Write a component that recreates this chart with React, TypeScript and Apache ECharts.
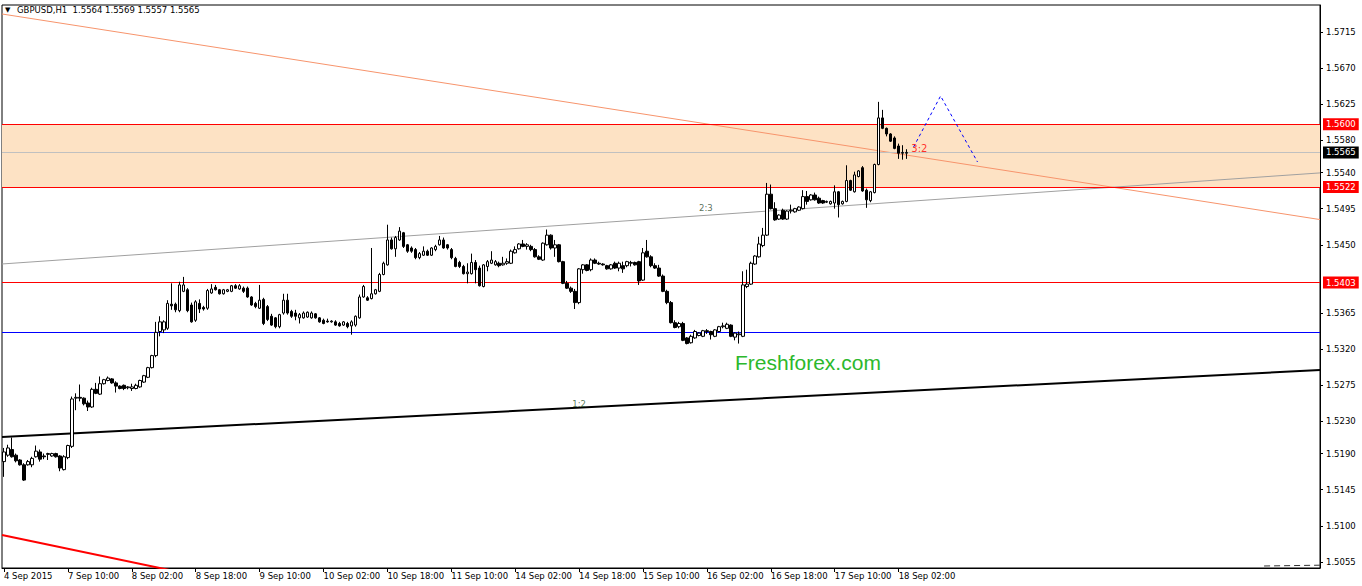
import React, { useEffect, useRef } from 'react';
import * as echarts from 'echarts';

const SLOTS = 330;
const FONT = 'DejaVu Sans';

const tickLabels = [
  '4 Sep 2015', '7 Sep 10:00', '8 Sep 02:00', '8 Sep 18:00', '9 Sep 10:00',
  '10 Sep 02:00', '10 Sep 18:00', '11 Sep 10:00', '14 Sep 02:00', '14 Sep 18:00',
  '15 Sep 10:00', '16 Sep 02:00', '16 Sep 18:00', '17 Sep 10:00', '18 Sep 02:00',
];

const priceTicks = [
  1.5715, 1.567, 1.5625, 1.558, 1.554, 1.5495, 1.545, 1.5365, 1.532, 1.5275,
  1.523, 1.519, 1.5145, 1.51, 1.5055,
];

// hourly candles: [open, high, low, close]
const candles = [
  [1.5180,1.5197,1.5161,1.5192],[1.5188,1.5201,1.5186,1.5197],[1.5195,1.5210,1.5185,1.5186],[1.5188,1.5190,1.5179,1.5181],
  [1.5182,1.5183,1.5175,1.5176],[1.5176,1.5178,1.5156,1.5157],[1.5176,1.5182,1.5175,1.5180],[1.5176,1.5186,1.5173,1.5184],
  [1.5186,1.5200,1.5185,1.5193],[1.5192,1.5195,1.5180,1.5183],[1.5187,1.5190,1.5183,1.5186],[1.5189,1.5191,1.5182,1.5190],
  [1.5187,1.5191,1.5186,1.5190],[1.5190,1.5191,1.5185,1.5186],[1.5187,1.5188,1.5168,1.5172],[1.5170,1.5188,1.5169,1.5186],
  [1.5185,1.5201,1.5183,1.5200],[1.5199,1.5261,1.5197,1.5258],[1.5259,1.5265,1.5244,1.5260],[1.5260,1.5276,1.5255,1.5259],
  [1.5259,1.5260,1.5250,1.5252],[1.5253,1.5256,1.5243,1.5248],[1.5248,1.5272,1.5247,1.5270],[1.5270,1.5278,1.5264,1.5265],
  [1.5264,1.5286,1.5263,1.5277],[1.5277,1.5283,1.5276,1.5282],[1.5281,1.5286,1.5280,1.5284],[1.5283,1.5284,1.5277,1.5278],
  [1.5278,1.5280,1.5266,1.5274],[1.5274,1.5275,1.5270,1.5271],[1.5275,1.5276,1.5269,1.5271],[1.5272,1.5274,1.5270,1.5273],
  [1.5271,1.5277,1.5268,1.5273],[1.5271,1.5277,1.5270,1.5275],[1.5273,1.5282,1.5272,1.5281],[1.5279,1.5288,1.5278,1.5287],
  [1.5285,1.5298,1.5284,1.5297],[1.5297,1.5313,1.5296,1.5312],[1.5312,1.5354,1.5310,1.5341],[1.5342,1.5361,1.5336,1.5354],
  [1.5344,1.5356,1.5340,1.5354],[1.5346,1.5381,1.5344,1.5377],[1.5376,1.5402,1.5369,1.5374],[1.5376,1.5378,1.5366,1.5369],
  [1.5368,1.5404,1.5366,1.5400],[1.5392,1.5410,1.5391,1.5400],[1.5394,1.5396,1.5366,1.5368],[1.5375,1.5378,1.5353,1.5354],
  [1.5356,1.5381,1.5354,1.5379],[1.5377,1.5382,1.5365,1.5370],[1.5372,1.5374,1.5368,1.5370],[1.5371,1.5395,1.5369,1.5393],
  [1.5390,1.5401,1.5389,1.5395],[1.5397,1.5400,1.5393,1.5394],[1.5394,1.5395,1.5388,1.5389],[1.5389,1.5395,1.5388,1.5394],
  [1.5392,1.5395,1.5391,1.5394],[1.5392,1.5400,1.5391,1.5399],[1.5399,1.5401,1.5395,1.5396],[1.5395,1.5401,1.5394,1.5399],
  [1.5396,1.5398,1.5390,1.5392],[1.5396,1.5398,1.5384,1.5385],[1.5385,1.5386,1.5374,1.5375],[1.5377,1.5379,1.5371,1.5373],
  [1.5371,1.5400,1.5370,1.5381],[1.5382,1.5384,1.5350,1.5352],[1.5373,1.5375,1.5355,1.5357],[1.5361,1.5364,1.5349,1.5350],
  [1.5359,1.5360,1.5346,1.5348],[1.5348,1.5364,1.5346,1.5363],[1.5365,1.5389,1.5363,1.5381],[1.5381,1.5389,1.5363,1.5365],
  [1.5367,1.5369,1.5359,1.5361],[1.5365,1.5369,1.5356,1.5361],[1.5359,1.5365,1.5352,1.5363],[1.5359,1.5367,1.5358,1.5365],
  [1.5360,1.5367,1.5359,1.5366],[1.5359,1.5367,1.5358,1.5365],[1.5364,1.5365,1.5358,1.5359],[1.5359,1.5360,1.5353,1.5354],
  [1.5356,1.5358,1.5351,1.5352],[1.5355,1.5358,1.5353,1.5354],[1.5354,1.5356,1.5353,1.5355],[1.5354,1.5356,1.5349,1.5350],
  [1.5352,1.5354,1.5348,1.5349],[1.5350,1.5355,1.5349,1.5354],[1.5352,1.5354,1.5346,1.5348],[1.5349,1.5356,1.5338,1.5354],
  [1.5350,1.5362,1.5348,1.5361],[1.5359,1.5388,1.5358,1.5385],[1.5385,1.5400,1.5384,1.5398],[1.5384,1.5386,1.5380,1.5381],
  [1.5383,1.5446,1.5382,1.5389],[1.5389,1.5395,1.5388,1.5394],[1.5392,1.5415,1.5391,1.5413],[1.5413,1.5429,1.5412,1.5427],
  [1.5425,1.5475,1.5424,1.5456],[1.5456,1.5459,1.5444,1.5445],[1.5445,1.5461,1.5435,1.5459],[1.5456,1.5472,1.5455,1.5467],
  [1.5465,1.5466,1.5446,1.5448],[1.5450,1.5451,1.5440,1.5442],[1.5446,1.5448,1.5440,1.5442],[1.5444,1.5446,1.5432,1.5434],
  [1.5434,1.5441,1.5432,1.5439],[1.5437,1.5448,1.5436,1.5442],[1.5442,1.5444,1.5436,1.5437],[1.5437,1.5447,1.5436,1.5446],
  [1.5444,1.5450,1.5442,1.5448],[1.5450,1.5461,1.5449,1.5456],[1.5456,1.5459,1.5445,1.5446],[1.5450,1.5451,1.5444,1.5446],
  [1.5444,1.5446,1.5432,1.5434],[1.5433,1.5435,1.5422,1.5423],[1.5428,1.5430,1.5421,1.5423],[1.5423,1.5425,1.5413,1.5414],
  [1.5414,1.5427,1.5402,1.5416],[1.5414,1.5439,1.5413,1.5428],[1.5428,1.5431,1.5402,1.5419],[1.5421,1.5424,1.5398,1.5399],
  [1.5398,1.5426,1.5397,1.5425],[1.5423,1.5431,1.5417,1.5429],[1.5427,1.5442,1.5426,1.5431],[1.5425,1.5431,1.5424,1.5429],
  [1.5427,1.5429,1.5422,1.5424],[1.5425,1.5435,1.5424,1.5427],[1.5427,1.5433,1.5425,1.5429],[1.5427,1.5444,1.5426,1.5442],
  [1.5440,1.5448,1.5439,1.5444],[1.5445,1.5452,1.5444,1.5451],[1.5451,1.5456,1.5447,1.5448],[1.5448,1.5452,1.5444,1.5450],
  [1.5448,1.5450,1.5442,1.5444],[1.5444,1.5446,1.5434,1.5435],[1.5435,1.5437,1.5431,1.5432],[1.5431,1.5453,1.5430,1.5452],
  [1.5450,1.5469,1.5449,1.5462],[1.5462,1.5463,1.5444,1.5446],[1.5446,1.5456,1.5435,1.5450],[1.5450,1.5451,1.5428,1.5429],
  [1.5429,1.5430,1.5401,1.5402],[1.5402,1.5405,1.5395,1.5396],[1.5396,1.5398,1.5390,1.5392],[1.5392,1.5395,1.5370,1.5378],
  [1.5378,1.5421,1.5376,1.5420],[1.5419,1.5426,1.5414,1.5425],[1.5425,1.5426,1.5417,1.5418],[1.5419,1.5433,1.5417,1.5431],
  [1.5431,1.5433,1.5426,1.5427],[1.5427,1.5429,1.5425,1.5426],[1.5426,1.5427,1.5424,1.5425],[1.5424,1.5425,1.5419,1.5420],
  [1.5420,1.5426,1.5419,1.5425],[1.5427,1.5429,1.5420,1.5421],[1.5421,1.5429,1.5417,1.5427],[1.5424,1.5429,1.5415,1.5420],
  [1.5424,1.5430,1.5422,1.5429],[1.5427,1.5430,1.5423,1.5428],[1.5428,1.5429,1.5424,1.5425],[1.5429,1.5430,1.5400,1.5405],
  [1.5406,1.5446,1.5405,1.5440],[1.5442,1.5456,1.5434,1.5435],[1.5435,1.5437,1.5422,1.5424],[1.5424,1.5427,1.5420,1.5421],
  [1.5421,1.5425,1.5410,1.5411],[1.5411,1.5413,1.5391,1.5392],[1.5392,1.5394,1.5376,1.5378],[1.5378,1.5380,1.5352,1.5353],
  [1.5353,1.5356,1.5346,1.5347],[1.5348,1.5354,1.5346,1.5352],[1.5352,1.5354,1.5330,1.5331],[1.5334,1.5335,1.5326,1.5327],
  [1.5328,1.5338,1.5327,1.5336],[1.5334,1.5344,1.5333,1.5342],[1.5337,1.5341,1.5336,1.5340],[1.5336,1.5344,1.5335,1.5343],
  [1.5343,1.5345,1.5339,1.5342],[1.5342,1.5343,1.5332,1.5338],[1.5336,1.5345,1.5335,1.5344],[1.5342,1.5349,1.5341,1.5348],
  [1.5348,1.5353,1.5346,1.5349],[1.5346,1.5353,1.5345,1.5351],[1.5350,1.5351,1.5335,1.5336],[1.5335,1.5341,1.5331,1.5340],
  [1.5338,1.5342,1.5327,1.5339],[1.5336,1.5417,1.5335,1.5400],[1.5398,1.5419,1.5396,1.5401],[1.5401,1.5429,1.5400,1.5427],
  [1.5426,1.5437,1.5425,1.5436],[1.5435,1.5460,1.5434,1.5451],[1.5449,1.5471,1.5447,1.5462],[1.5462,1.5527,1.5461,1.5513],
  [1.5513,1.5525,1.5494,1.5495],[1.5495,1.5503,1.5480,1.5481],[1.5482,1.5488,1.5481,1.5487],[1.5493,1.5495,1.5481,1.5482],
  [1.5482,1.5493,1.5481,1.5492],[1.5492,1.5500,1.5489,1.5493],[1.5491,1.5496,1.5490,1.5495],[1.5493,1.5498,1.5492,1.5497],
  [1.5495,1.5518,1.5494,1.5510],[1.5510,1.5517,1.5500,1.5504],[1.5506,1.5513,1.5505,1.5512],[1.5512,1.5515,1.5505,1.5506],
  [1.5508,1.5510,1.5501,1.5502],[1.5505,1.5506,1.5501,1.5502],[1.5503,1.5505,1.5502,1.5504],[1.5501,1.5505,1.5500,1.5504],
  [1.5502,1.5524,1.5495,1.5516],[1.5516,1.5517,1.5484,1.5500],[1.5501,1.5505,1.5500,1.5504],[1.5504,1.5549,1.5503,1.5530],
  [1.5530,1.5531,1.5517,1.5518],[1.5516,1.5541,1.5515,1.5537],[1.5535,1.5543,1.5534,1.5542],[1.5546,1.5548,1.5516,1.5517],
  [1.5518,1.5520,1.5496,1.5506],[1.5505,1.5517,1.5503,1.5516],[1.5515,1.5551,1.5514,1.5550],[1.5550,1.5628,1.5549,1.5608],
  [1.5608,1.5618,1.5594,1.5595],[1.5595,1.5596,1.5585,1.5588],[1.5588,1.5589,1.5578,1.5579],[1.5583,1.5585,1.5569,1.5570],
  [1.5573,1.5576,1.5557,1.5564],[1.5564,1.5574,1.5556,1.5565],[1.5564,1.5569,1.5557,1.5565],
];

// horizontal levels
const zoneTop = 1.56;
const zoneBottom = 1.5522;
const levelRed = 1.5403;
const levelBlue = 1.53414;
const bidPrice = 1.5565;

// trend lines as [candle index, price]
const salmonTrend = [[-0.5, 1.57374], [329.5, 1.54814]];
const grayTrend = [[-0.5, 1.54261], [329.5, 1.55395]];
const blackTrend = [[-0.5, 1.52106], [329.5, 1.52941]];
const redTrend = [[-0.5, 1.50886], [49.5, 1.50366]];
const projection = [[227.75, 1.55718], [234.5, 1.56353], [243.75, 1.55531]];
const bottomRay = [[315.5, 1.50500], [329.5, 1.50510]];

const ratioLabels = [
  { name: '2:3', pos: [175.75, 1.54958], color: '#2E4A2E', size: 8.5 },
  { name: '1:2', pos: [144, 1.52517], color: '#2E5A2E', size: 8.5 },
  { name: '3:2', pos: [229.2, 1.55693], color: '#FF0000', size: 10 },
];

const Y_MIN = 1.50475;
const Y_MAX = 1.57486;

export default function App() {
  const ref = useRef<HTMLDivElement>(null);

  useEffect(() => {
    if (!ref.current) return;
    const chart = echarts.init(ref.current, null, { renderer: 'svg' });
    const categories = Array.from({ length: SLOTS }, (_, i) => String(i));
    const showTick = (idx: number) => idx % 16 === 0 && idx / 16 < tickLabels.length;
    const small = { fontFamily: FONT, fontSize: 8.5 };
    const tag = (bg: string) => ({
      show: true,
      position: 'end',
      distance: 3,
      formatter: (p: any) => Number(p.value).toFixed(4),
      backgroundColor: bg,
      color: '#fff',
      padding: [2, 3, 1, 3],
      ...small,
    });
    const hline = (value: number, color: string, label: any) => ({
      yAxis: value,
      lineStyle: { color, width: 1, type: 'solid' },
      label,
    });

    const option: any = {
      animation: false,
      backgroundColor: '#fff',
      textStyle: { fontFamily: FONT },
      grid: { left: 2, right: 42, top: 5, bottom: 18, show: true, borderColor: '#000', borderWidth: 1, backgroundColor: 'transparent' },
      xAxis: [
        {
          type: 'category',
          data: categories,
          boundaryGap: true,
          axisLine: { show: true, onZero: false, lineStyle: { color: '#000' } },
          axisTick: { show: true, interval: (i: number) => showTick(i), alignWithLabel: true, length: 4, lineStyle: { color: '#000' } },
          axisLabel: {
            interval: (i: number) => showTick(i),
            formatter: (v: string) => {
              const i = Number(v);
              return showTick(i) ? tickLabels[i / 16] : '';
            },
            align: 'left',
            margin: 3,
            color: '#000',
            ...small,
          },
          splitLine: { show: false },
        },
        {
          type: 'value', min: -0.5, max: SLOTS - 0.5, show: false,
          axisLine: { show: false, onZero: false }, axisTick: { show: false }, axisLabel: { show: false }, splitLine: { show: false },
        },
      ],
      yAxis: {
        type: 'value',
        position: 'right',
        min: Y_MIN,
        max: Y_MAX,
        axisLine: { show: true, onZero: false, lineStyle: { color: '#000' } },
        axisTick: { show: true, inside: false, length: 3, customValues: priceTicks, lineStyle: { color: '#000' } },
        axisLabel: { show: true, customValues: priceTicks, formatter: (v: number) => v.toFixed(4), margin: 6, color: '#000', ...small },
        splitLine: { show: false },
      },
      graphic: [
        { type: 'text', left: 5, top: 6, style: { text: '▼', fontSize: 7, fill: '#000', fontFamily: FONT } },
        { type: 'text', left: 17, top: 5, style: { text: 'GBPUSD,H1  1.5564 1.5569 1.5557 1.5565', fill: '#000', fontFamily: FONT, fontSize: 8.5 } },
        { type: 'text', left: 735, top: 352, style: { text: 'Freshforex.com', fill: '#2CB82C', fontFamily: 'Liberation Sans', fontSize: 21 } },
      ],
      series: [
        {
          type: 'line',
          xAxisIndex: 1,
          data: [],
          z: 1,
          markArea: {
            silent: true,
            itemStyle: { color: '#FDE2C4', opacity: 1 },
            data: [[{ yAxis: zoneBottom }, { yAxis: zoneTop }]],
          },
        },
        { type: 'line', xAxisIndex: 1, data: grayTrend, symbol: 'none', lineStyle: { color: '#A0A0A0', width: 1 }, z: 3 },
        { type: 'line', xAxisIndex: 1, data: salmonTrend, symbol: 'none', lineStyle: { color: '#F7946C', width: 1 }, z: 3 },
        { type: 'line', xAxisIndex: 1, data: blackTrend, symbol: 'none', lineStyle: { color: '#000', width: 2 }, z: 3 },
        { type: 'line', xAxisIndex: 1, data: redTrend, symbol: 'none', lineStyle: { color: '#FF0000', width: 2 }, z: 3 },
        { type: 'line', xAxisIndex: 1, data: bottomRay, symbol: 'none', lineStyle: { color: '#333', width: 1, type: [6, 4] }, z: 3 },
        {
          type: 'candlestick',
          xAxisIndex: 0,
          data: candles.map(([o, h, l, c]) => [o, c, l, h]),
          barWidth: 3,
          z: 5,
          itemStyle: { color: '#fff', color0: '#000', borderColor: '#000', borderColor0: '#000', borderWidth: 1 },
          markLine: {
            silent: true,
            symbol: 'none',
            precision: 5,
            data: [
              hline(bidPrice, '#C0C0C0', tag('#000')),
              hline(zoneTop, '#FF0000', tag('#FF0000')),
              hline(zoneBottom, '#FF0000', tag('#FF0000')),
              hline(levelRed, '#FF0000', tag('#FF0000')),
              hline(levelBlue, '#0000FF', { show: false }),
            ],
          },
        },
        { type: 'line', xAxisIndex: 1, data: projection, symbol: 'none', lineStyle: { color: '#0000FF', width: 1, type: [3, 3] }, z: 6 },
        {
          type: 'scatter',
          xAxisIndex: 1,
          symbolSize: 0,
          z: 7,
          data: ratioLabels.map((r) => ({
            value: r.pos,
            label: { show: true, position: 'inside', formatter: r.name, color: r.color, fontFamily: FONT, fontSize: r.size },
          })),
        },
      ],
    };
    chart.setOption(option);
    return () => chart.dispose();
  }, []);

  return <div ref={ref} style={{ position: 'fixed', left: 0, top: 0, width: 1362, height: 586, background: '#fff' }} />;
}
